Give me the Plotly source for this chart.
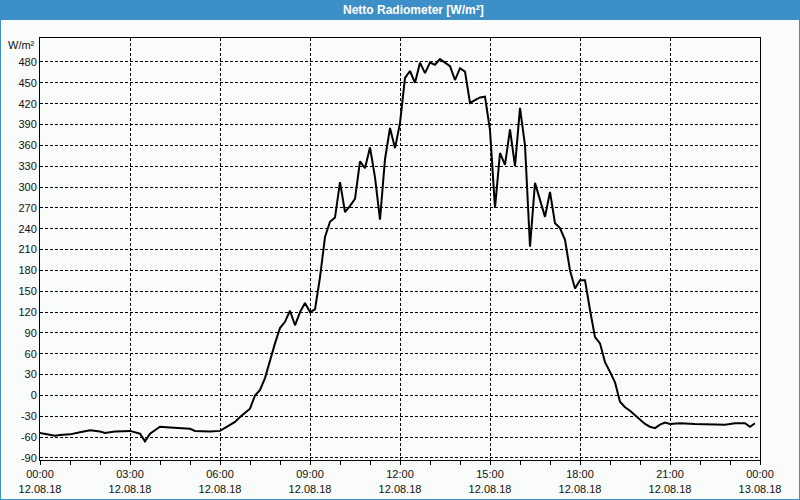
import plotly.graph_objects as go

times = ["00:00","00:10","00:30","00:40","01:00","01:20","01:40","02:00","02:10","02:30",
         "03:00","03:20","03:30","03:40","04:00","04:20","04:40","05:00","05:10","05:40",
         "06:00","06:10","06:30","06:40","07:00","07:10","07:20","07:30","07:40","07:50",
         "08:00","08:10","08:20","08:30","08:40","08:50","09:00","09:10","09:20","09:30",
         "09:40","09:50","10:00","10:10","10:20","10:30","10:40","10:50","11:00","11:10",
         "11:20","11:30","11:40","11:50","12:00","12:10","12:20","12:30","12:40","12:50",
         "13:00","13:10","13:20","13:30","13:40","13:50","14:00","14:10","14:20","14:30",
         "14:40","14:50","15:00","15:10","15:20","15:30","15:40","15:50","16:00","16:10",
         "16:20","16:30","16:40","16:50","17:00","17:10","17:20","17:30","17:40","17:50",
         "18:00","18:10","18:20","18:30","18:40","18:50","19:00","19:10","19:20","19:30",
         "19:40","19:50","20:00","20:10","20:20","20:30","20:40","20:50","21:00","21:20",
         "21:50","22:20","22:50","23:10","23:30","23:40","23:50"]
values = [-54,-55,-58,-57,-56,-53,-50,-52,-54,-52,
          -51,-55,-66,-55,-45,-46,-47,-48,-51,-52,
          -51,-47,-38,-31,-19,0,8,25,52,75,
          97,106,122,101,120,133,120,124,170,228,
          250,256,307,264,273,283,337,327,357,314,
          253,340,385,356,392,457,467,450,479,464,
          479,476,484,479,474,454,471,466,421,425,
          429,430,382,270,349,332,383,330,414,360,
          214,306,281,257,293,248,241,224,180,154,
          166,166,123,84,75,48,34,19,-9,-17,
          -22,-28,-34,-41,-45,-47,-42,-39,-41,-40,
          -41,-42,-42,-40,-40,-45,-40]

tick_hours = ["00:00","03:00","06:00","09:00","12:00","15:00","18:00","21:00","00:00"]
tick_dates = ["12.08.18"]*8 + ["13.08.18"]
tick_positions = ["2018-08-12 %s" % h for h in tick_hours[:-1]] + ["2018-08-13 00:00"]
y_ticks = list(range(-90, 481, 30))

x_vals = ["2018-08-12 " + t for t in times]

BLUE = "#3d90c7"
BG = "#f9fcfa"
FONT = "Liberation Sans"
DASH = "3px,2px"

fig = go.Figure()
fig.add_trace(go.Scatter(x=x_vals, y=values, mode="lines",
                         line=dict(color="black", width=2), hoverinfo="skip"))

W, H = 800, 500
ml, mr, mt, mb = 40, 40, 38, 40
pw, ph = W - ml - mr, H - mt - mb

fig.update_layout(
    width=W, height=H,
    margin=dict(l=ml, r=mr, t=mt, b=mb),
    paper_bgcolor=BG, plot_bgcolor=BG,
    showlegend=False,
    font=dict(family=FONT, size=11, color="#111111"),
    xaxis=dict(
        type="date",
        range=["2018-08-12 00:00", "2018-08-13 00:00"],
        tickvals=tick_positions,
        ticktext=["%s<br>%s" % (h, d) for h, d in zip(tick_hours, tick_dates)],
        showgrid=True, gridcolor="black", gridwidth=1, griddash=DASH,
        showline=True, linecolor="black", linewidth=1, mirror=True,
        ticks="outside", ticklen=4, tickcolor="black",
        minor=dict(dtick=3600000, ticks="outside", ticklen=4, tickcolor="black", showgrid=False),
        zeroline=False, tickangle=0, automargin=False,
    ),
    yaxis=dict(
        range=[-92.9, 514.5],
        tickvals=y_ticks,
        ticktext=[str(v) for v in y_ticks],
        showgrid=True, gridcolor="black", gridwidth=1, griddash=DASH,
        showline=True, linecolor="black", linewidth=1, mirror=True,
        ticks="", zeroline=False, automargin=False,
    ),
    shapes=[
        dict(type="rect", xref="paper", yref="paper",
             x0=-ml / pw, x1=1 + mr / pw, y0=1 + (mt - 20) / ph, y1=1 + mt / ph,
             fillcolor=BLUE, line=dict(width=0), layer="below"),
        dict(type="rect", xref="paper", yref="paper",
             x0=-ml / pw, x1=1 + mr / pw, y0=-mb / ph, y1=1 + mt / ph,
             fillcolor="rgba(0,0,0,0)", line=dict(color=BLUE, width=2)),
    ],
    annotations=[
        dict(text="<b>Netto Radiometer [W/m²]</b>", xref="paper", yref="paper",
             x=(413 - ml) / pw, y=1 + (mt - 10) / ph, xanchor="center", yanchor="middle",
             showarrow=False, font=dict(family=FONT, size=12, color="white")),
        dict(text="W/m²", xref="paper", yref="y", x=-3 / pw, y=504,
             xanchor="right", yanchor="middle", showarrow=False,
             font=dict(family=FONT, size=11, color="#111111")),
    ],
)

fig.write_html("out.html", config={"displayModeBar": False},
               post_script="document.body.style.margin='0';document.body.style.overflow='hidden';")
